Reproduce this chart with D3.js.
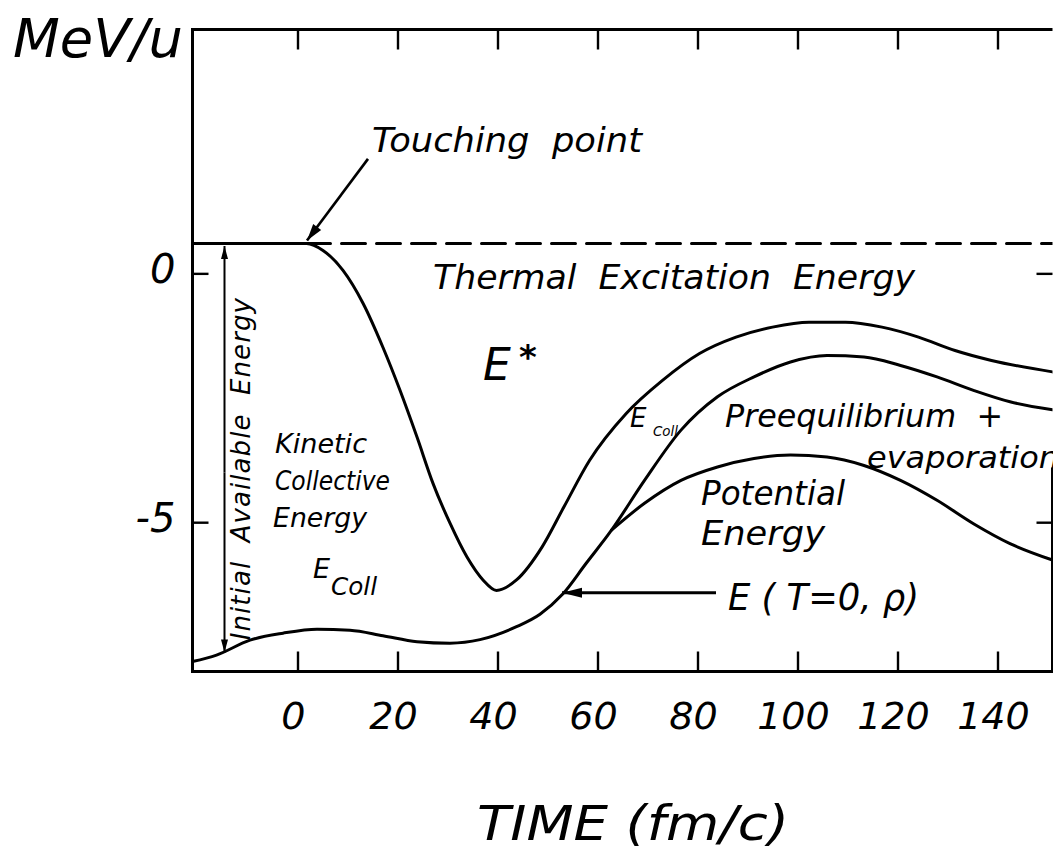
<!DOCTYPE html>
<html>
<head>
<meta charset="utf-8">
<script src="https://cdn.jsdelivr.net/npm/d3@7"></script>
<style>
  body { margin: 0; background: #fff; }
  text { font-family: "DejaVu Sans", sans-serif; font-style: italic; fill: #000; white-space: pre; }
</style>
</head>
<body>
<div id="chart"></div>
<script>
// time in fm/c, energy in MeV/u
const xTicks = [0, 20, 40, 60, 80, 100, 120, 140];
const yTicks = [0, -5];
const availableLevel = 0.6;   // initial available energy (dashed line)
const touchTime = 1.8;

// upper edge of E_coll: flat until touching point, dip at 40 fm/c, then E* top
const collBoundary = [
  [-21, 0.6], [1.8, 0.6], [5.1, 0.46], [9.1, 0.06], [13.1, -0.6], [17.1, -1.49],
  [20.5, -2.35], [23.9, -3.29], [27.1, -4.22], [30.5, -5.02], [33.9, -5.7],
  [37.1, -6.16], [39.8, -6.37], [43.8, -6.16], [48.9, -5.5], [53.3, -4.69],
  [58.4, -3.76], [65.7, -2.82], [73, -2.15], [80.4, -1.61], [87.7, -1.28],
  [95, -1.08], [102.3, -0.98], [109.6, -0.98], [116.9, -1.08], [124.2, -1.28],
  [131.5, -1.55], [138.8, -1.75], [151, -1.98]
];

// E(T=0, rho), continuing as the preequilibrium + evaporation edge
const groundState = [
  [-21, -7.8], [-16.2, -7.67], [-9.5, -7.37], [-2.9, -7.23], [3.9, -7.15],
  [10.5, -7.17], [17.1, -7.28], [23.9, -7.4], [30.5, -7.43], [36.5, -7.36],
  [43.8, -7.1], [48.5, -6.85], [53, -6.45], [57.7, -5.83], [62.8, -5.16],
  [69.4, -4.16], [76.7, -3.15], [84, -2.48], [91.3, -2.08], [98.6, -1.78],
  [105.9, -1.65], [113.3, -1.68], [120.6, -1.85], [127.9, -2.08], [135.2, -2.35],
  [142.5, -2.58], [151, -2.74]
];

// potential energy branch
const potential = [
  [62.8, -5.16], [69.4, -4.62], [76.7, -4.16], [84, -3.89], [91.3, -3.72],
  [98.6, -3.65], [105.9, -3.69], [113.3, -3.86], [120.6, -4.16], [127.9, -4.56],
  [135.2, -5.03], [142.5, -5.43], [151, -5.76]
];

const margin = {top: 29.5, right: 0.5, bottom: 183.5, left: 192.5};
const width = 1053 - margin.left - margin.right;
const height = 855 - margin.top - margin.bottom;

const svg = d3.select("#chart")
  .append("svg")
  .attr("width", width + margin.left + margin.right)
  .attr("height", height + margin.top + margin.bottom)
  .append("g")
  .attr("transform", `translate(${margin.left},${margin.top})`);

const x = d3.scaleLinear().domain([-21, 151]).range([0, width]);
const y = d3.scaleLinear().domain([-8, 4.9]).range([height, 0]);

svg.append("clipPath").attr("id", "plot")
  .append("rect").attr("width", width).attr("height", height);

// frame (right side only shows near the bottom in the scan)
const frame = svg.append("g").attr("stroke", "#000").attr("stroke-width", 3).attr("fill", "none");
frame.append("path").attr("d", `M${width},0H0V${height}H${width}V${y(-3.9)}`);

// axes
svg.append("g")
    .attr("transform", `translate(0,${height})`)
    .call(d3.axisBottom(x).tickValues(xTicks).tickSize(-20).tickPadding(31).tickFormat(d => d))
    .call(g => g.select(".domain").remove())
    .attr("font-size", 38)
    .call(g => g.selectAll("text").attr("dx", "-0.12em"));

svg.append("g")
    .call(d3.axisTop(x).tickValues(xTicks).tickSize(-20).tickFormat(""))
    .call(g => g.select(".domain").remove());

svg.append("g")
    .call(d3.axisLeft(y).tickValues(yTicks).tickSize(-16).tickPadding(17).tickFormat(d => String(d)))
    .call(g => g.select(".domain").remove())
    .attr("font-size", 40)
    .call(g => g.selectAll("text").attr("dy", "0.22em"));

svg.append("g")
    .attr("transform", `translate(${width},0)`)
    .call(d3.axisLeft(y).tickValues(yTicks).tickSize(16).tickFormat(""))
    .call(g => g.select(".domain").remove());

svg.selectAll(".tick line").attr("stroke", "#000").attr("stroke-width", 2.4);

// curves
const line = d3.line()
    .x(d => x(d[0]))
    .y(d => y(d[1]))
    .curve(d3.curveMonotoneX);

const curves = svg.append("g").attr("clip-path", "url(#plot)")
    .attr("fill", "none").attr("stroke", "#000").attr("stroke-width", 3)
    .attr("stroke-linejoin", "round").attr("stroke-linecap", "round");

[collBoundary, groundState, potential].forEach(s => {
  curves.append("path").attr("d", line(s));
});

curves.append("line")
    .attr("x1", x(touchTime)).attr("x2", x(151))
    .attr("y1", y(availableLevel)).attr("y2", y(availableLevel))
    .attr("stroke-dasharray", "24 11");

// arrows
function arrowHead(x1, y1, x2, y2, len, half) {
  const a = Math.atan2(y2 - y1, x2 - x1);
  const bx = x2 - len * Math.cos(a), by = y2 - len * Math.sin(a);
  const p = [[x2, y2],
    [bx + half * Math.sin(a), by - half * Math.cos(a)],
    [bx - half * Math.sin(a), by + half * Math.cos(a)]];
  svg.append("path").attr("d", "M" + p.join("L") + "Z").attr("fill", "#000");
}

function arrow(t1, e1, t2, e2, w, len, half) {
  svg.append("line")
      .attr("x1", x(t1)).attr("y1", y(e1)).attr("x2", x(t2)).attr("y2", y(e2))
      .attr("stroke", "#000").attr("stroke-width", w);
  arrowHead(x(t1), y(e1), x(t2), y(e2), len, half);
}

arrow(14.1, 2.3, 1.9, 0.66, 2.6, 17, 5);
arrow(83.7, -6.42, 52.9, -6.42, 3, 20, 5);

// initial available energy double arrow
arrow(-14.6, -4, -14.6, availableLevel - 0.05, 2, 13, 3.5);
arrow(-14.6, -4, -14.6, -7.62, 2, 13, 3.5);

// labels
function label(str, t, e, size, len) {
  const el = svg.append("text")
      .attr("x", x(t)).attr("y", y(e))
      .attr("font-size", size)
      .text(str);
  if (len) el.attr("textLength", len).attr("lengthAdjust", "spacingAndGlyphs");
  return el;
}

svg.append("text")
    .attr("x", 13 - margin.left).attr("y", 57 - margin.top)
    .attr("font-size", 54).attr("textLength", 170).attr("lengthAdjust", "spacingAndGlyphs")
    .text("MeV/u");

svg.append("text")
    .attr("x", 477 - margin.left).attr("y", 840 - margin.top)
    .attr("font-size", 48).attr("textLength", 312).attr("lengthAdjust", "spacingAndGlyphs")
    .text("TIME (fm/c)");

label("Touching  point", 14.9, 2.44, 34, 270);
label("Thermal  Excitation  Energy", 27.1, -0.31, 33, 482);
label("E", 37.1, -2.14, 44);
label("*", 44.3, -1.92, 34).attr("font-weight", "bold").attr("font-style", "normal");

label("Kinetic", -4.5, -3.61, 26, 92);
label("Collective", -4.5, -4.35, 26, 115);
label("Energy", -4.9, -5.1, 26, 94);
label("E", 3.1, -6.12, 27);
label("Coll", 6.7, -6.46, 25, 46);

label("E", 66.5, -3.09, 26);
label("Coll", 71.1, -3.27, 14, 25);
label("Preequilibrium  +", 85.5, -3.09, 32, 278);
label("evaporation", 113.9, -3.91, 30, 192);
label("Potential", 80.7, -4.65, 34, 144);
label("Energy", 80.7, -5.46, 34, 124);
label("E ( T=0, ρ)", 86.1, -6.76, 38, 191);

svg.append("text")
    .attr("transform", `translate(${x(-9.5)},${y(-7.37)}) rotate(-90)`)
    .attr("font-size", 26).attr("textLength", 342).attr("lengthAdjust", "spacing")
    .text("Initial  Available  Energy");
</script>
</body>
</html>
